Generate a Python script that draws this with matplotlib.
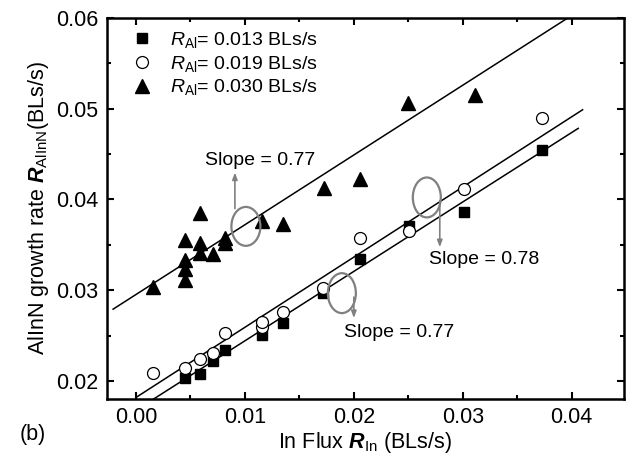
import numpy as np
import matplotlib
matplotlib.use("Agg")
import matplotlib.pyplot as plt
from matplotlib.patches import Ellipse
from matplotlib.lines import Line2D
from matplotlib.ticker import MultipleLocator

plt.rcParams['font.family'] = ['Liberation Sans', 'DejaVu Sans']
plt.rcParams['mathtext.fontset'] = 'custom'
plt.rcParams['mathtext.rm'] = 'Liberation Sans'
plt.rcParams['mathtext.it'] = 'Liberation Sans:italic'
plt.rcParams['mathtext.bf'] = 'Liberation Sans:italic:bold'

# ---- data ----
sq_x = [0.0045, 0.0059, 0.0071, 0.0082, 0.0116, 0.0135, 0.0172, 0.0206, 0.0251, 0.0301, 0.0373]
sq_y = [0.0203, 0.0208, 0.0222, 0.0234, 0.0251, 0.0264, 0.0297, 0.0334, 0.0371, 0.0386, 0.0454]

ci_x = [0.0016, 0.0045, 0.0059, 0.0071, 0.0082, 0.0116, 0.0116, 0.0135, 0.0172, 0.0206, 0.0251, 0.0301, 0.0373]
ci_y = [0.0209, 0.0214, 0.0224, 0.0231, 0.0253, 0.0259, 0.0265, 0.0276, 0.0302, 0.0357, 0.0365, 0.0411, 0.0490]

tr_x = [0.0016, 0.0045, 0.0045, 0.0045, 0.0045, 0.0059, 0.0059, 0.0059, 0.0071, 0.0082, 0.0082,
        0.0116, 0.0135, 0.0173, 0.0206, 0.0250, 0.0311]
tr_y = [0.0303, 0.0355, 0.0333, 0.0323, 0.0311, 0.0385, 0.0352, 0.0341, 0.0340, 0.0358, 0.0352,
        0.0376, 0.0373, 0.0413, 0.0422, 0.0506, 0.0515]

labels = [r'$R_{\mathrm{Al}}$= 0.013 BLs/s', r'$R_{\mathrm{Al}}$= 0.019 BLs/s', r'$R_{\mathrm{Al}}$= 0.030 BLs/s']

# linear fits: intercept, slope, x-range
fit_intercepts = [0.01676, 0.01817, 0.02952]
fit_slopes = [0.7654, 0.7735, 0.769]
fit_xstart = [0.0, 0.0, -0.0021]
fit_xend = [0.0406, 0.0410, 0.0400]

xticks = [0.00, 0.01, 0.02, 0.03, 0.04]
yticks = [0.02, 0.03, 0.04, 0.05, 0.06]

# ---- figure ----
fig = plt.figure(figsize=(6.28, 4.58), dpi=100)
ax = fig.add_axes([0.1704, 0.1288, 0.8232, 0.8319])

ax.plot(sq_x, sq_y, 's', color='black', markersize=7.8, linestyle='none', zorder=3)
ax.plot(ci_x, ci_y, 'o', markerfacecolor='white', markeredgecolor='black', markeredgewidth=0.9,
        markersize=8.6, linestyle='none', zorder=3)
ax.plot(tr_x, tr_y, '^', color='black', markersize=10, linestyle='none', zorder=3)

for b, m, x0, x1 in zip(fit_intercepts, fit_slopes, fit_xstart, fit_xend):
    xs = np.array([x0, x1])
    ax.plot(xs, b + m * xs, color='black', lw=1.1, zorder=2)

ax.set_xlim(-0.00266, 0.0448)
ax.set_ylim(0.0180, 0.0600)
ax.set_xticks(xticks)
ax.set_yticks(yticks)
ax.set_xticklabels([f'{v:.2f}' for v in xticks])
ax.set_yticklabels([f'{v:.2f}' for v in yticks])
ax.xaxis.set_minor_locator(MultipleLocator(0.005))
ax.yaxis.set_minor_locator(MultipleLocator(0.005))
ax.tick_params(which='both', direction='in', top=True, right=True, labelsize=15.5, width=1.5)
ax.tick_params(which='major', length=5, pad=6)
ax.tick_params(which='minor', length=3)
for s in ax.spines.values():
    s.set_linewidth(1.8)

ax.set_xlabel(r'In Flux $\mathbf{R}_{\mathrm{In}}$ (BLs/s)', fontsize=15.5, labelpad=1)
ax.set_ylabel(r'AlInN growth rate $\mathbf{R}_{\mathrm{AlInN}}$(BLs/s)', fontsize=15.5, labelpad=4)
fig.text(0.032, 0.04, '(b)', fontsize=15.5)

handles = [Line2D([], [], marker='s', color='black', ls='none', markersize=7.8),
           Line2D([], [], marker='o', markerfacecolor='white', markeredgecolor='black', ls='none',
                  markersize=8.6, markeredgewidth=0.9),
           Line2D([], [], marker='^', color='black', ls='none', markersize=10)]
ax.legend(handles, labels, loc='upper left', bbox_to_anchor=(0.027, 1.0), frameon=False,
          fontsize=14, handlelength=1.0, handletextpad=0.9, labelspacing=0.2,
          borderaxespad=0.4, borderpad=0.2)

gray = '#808080'
ap = dict(arrowstyle='-|>,head_length=0.4,head_width=0.15', color=gray, lw=1.2, shrinkA=0, shrinkB=0)
# annotation 1 (upper)
ax.add_patch(Ellipse((0.01009, 0.03703), 0.00266, 0.00429, fill=False, edgecolor=gray, lw=1.6, zorder=4))
ax.annotate('', xy=(0.00908, 0.04297), xytext=(0.00908, 0.03900), arrowprops=ap)
ax.text(0.00633, 0.04429, 'Slope = 0.77', fontsize=14, va='center', ha='left')
# annotation 2 (0.78)
ax.add_patch(Ellipse((0.02670, 0.04022), 0.00257, 0.0044, fill=False, edgecolor=gray, lw=1.6, zorder=4))
ax.annotate('', xy=(0.02789, 0.03473), xytext=(0.02789, 0.03989), arrowprops=ap)
ax.text(0.02688, 0.03341, 'Slope = 0.78', fontsize=14, va='center', ha='left')
# annotation 3 (lower)
ax.add_patch(Ellipse((0.0189, 0.02967), 0.00257, 0.0044, fill=False, edgecolor=gray, lw=1.6, zorder=4))
ax.annotate('', xy=(0.0200, 0.02692), xytext=(0.0200, 0.02923), arrowprops=ap)
ax.text(0.01908, 0.02538, 'Slope = 0.77', fontsize=14, va='center', ha='left')

fig.savefig('out.png', dpi=100)
